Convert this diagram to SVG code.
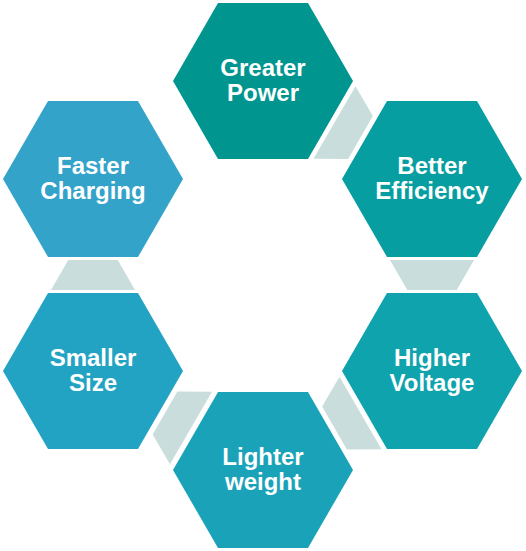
<svg xmlns="http://www.w3.org/2000/svg" width="526" height="551" viewBox="0 0 526 551">
<style>
.lbl{font-family:"Liberation Sans",Arial,sans-serif;font-weight:bold;font-size:24px;fill:#fff;text-anchor:middle}
.con{fill:#C9DDDC}
</style>
<defs>
<path id="hex" d="M-90,0 L-45,-78 L45,-78 L90,0 L45,78 L-45,78 Z"/>
<path id="arr" d="M-15,-42 L15,-24.7 L15,24.7 L-15,42 Z"/>
</defs>
<rect width="526" height="551" fill="#fff"/>
<g id="connectors">
<use href="#arr" class="con" transform="translate(347.5,130) rotate(30)"/>
<use href="#arr" class="con" transform="translate(432,275) rotate(90)"/>
<use href="#arr" class="con" transform="translate(347.5,420.5) rotate(150)"/>
<use href="#arr" class="con" transform="translate(178,420.5) rotate(210)"/>
<use href="#arr" class="con" transform="translate(93,275) rotate(270)"/>
</g>
<g id="greater-power" transform="translate(263,81)">
<use href="#hex" fill="#00968F"/>
<text class="lbl" x="0" y="-5">Greater</text>
<text class="lbl" x="0" y="20">Power</text>
</g>
<g id="better-efficiency" transform="translate(432,179)">
<use href="#hex" fill="#079EA2"/>
<text class="lbl" x="0" y="-5">Better</text>
<text class="lbl" x="0" y="20">Efficiency</text>
</g>
<g id="higher-voltage" transform="translate(432,371)">
<use href="#hex" fill="#0FA3AE"/>
<text class="lbl" x="0" y="-5">Higher</text>
<text class="lbl" x="0" y="20">Voltage</text>
</g>
<g id="lighter-weight" transform="translate(263,470)">
<use href="#hex" fill="#1AA3B8"/>
<text class="lbl" x="0" y="-5">Lighter</text>
<text class="lbl" x="0" y="20">weight</text>
</g>
<g id="smaller-size" transform="translate(93,371)">
<use href="#hex" fill="#23A3C3"/>
<text class="lbl" x="0" y="-5">Smaller</text>
<text class="lbl" x="0" y="20">Size</text>
</g>
<g id="faster-charging" transform="translate(93,179)">
<use href="#hex" fill="#34A3CA"/>
<text class="lbl" x="0" y="-5">Faster</text>
<text class="lbl" x="0" y="20">Charging</text>
</g>
</svg>
